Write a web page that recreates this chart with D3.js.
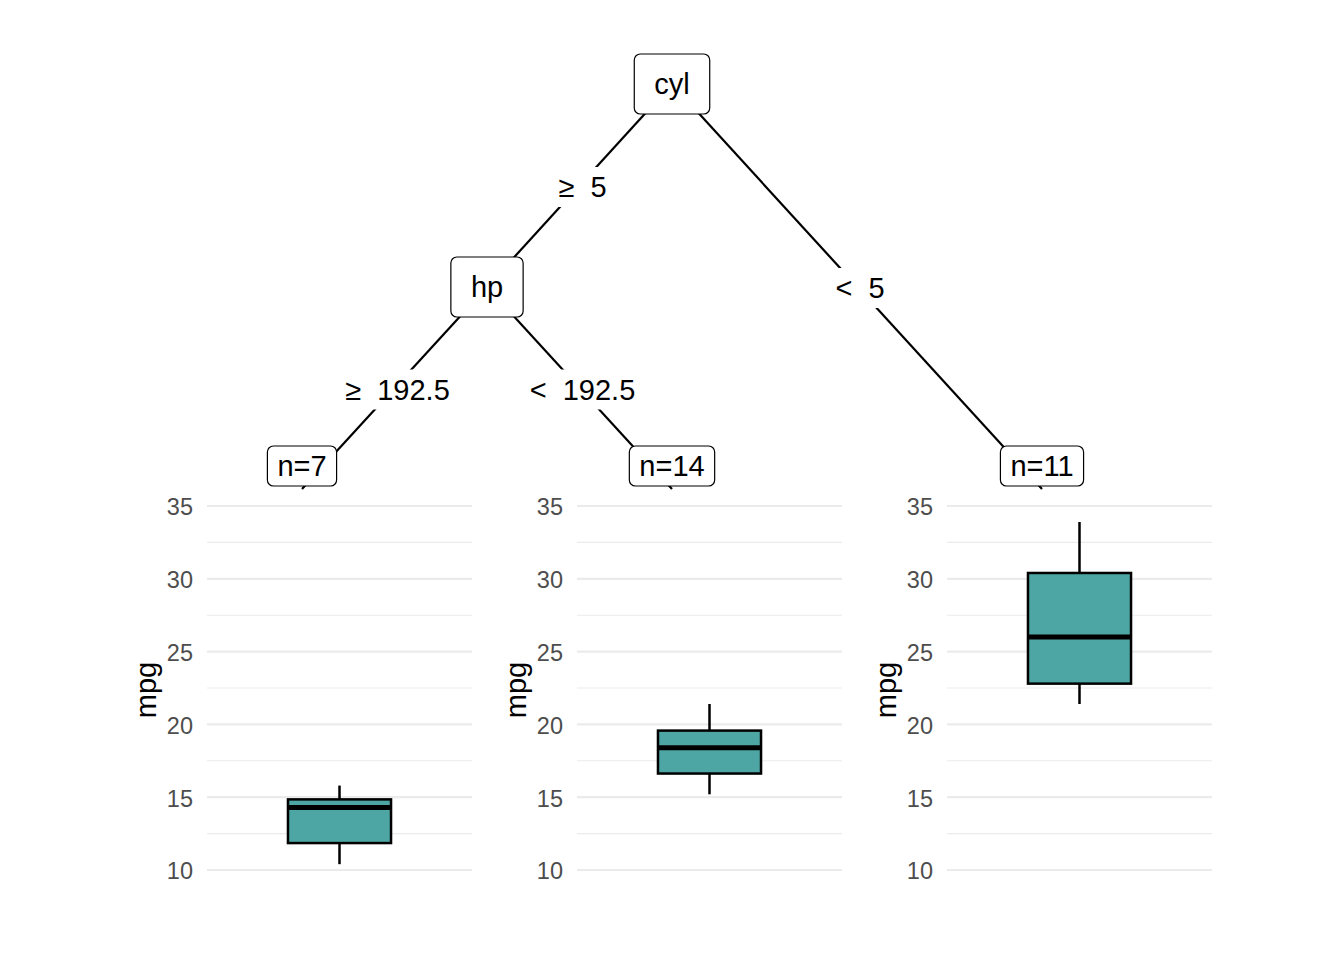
<!DOCTYPE html>
<html>
<head>
<meta charset="utf-8">
<script src="https://cdn.jsdelivr.net/npm/d3@7"></script>
<style>
  body { margin: 0; background: #fff; }
  text { font-family: "Liberation Sans", Arial, sans-serif; white-space: pre; }
</style>
</head>
<body>
<svg id="chart"></svg>
<script>
// split variables for the inner nodes, and edge labels
const splitVars = ["cyl", "hp"];
const rootEdges = ["≥  5", "<  5"];
const hpEdges = ["≥  192.5", "<  192.5"];

// leaves (left to right)
const leafN = [7, 14, 11];
// boxplot stats of mpg per leaf
const whiskerLow = [10.4, 15.2, 21.4];
const q1 = [11.85, 16.625, 22.8];
const median = [14.3, 18.4, 26.0];
const q3 = [14.85, 19.575, 30.4];
const whiskerHigh = [15.8, 21.4, 33.9];

const yTicks = [10, 15, 20, 25, 30, 35];
const yMinor = [12.5, 17.5, 22.5, 27.5, 32.5];

const W = 1344, H = 960;
const svg = d3.select("#chart").attr("width", W).attr("height", H);

// tree structure
const treeData = {
  name: splitVars[0],
  children: [
    {
      edge: rootEdges[0], name: splitVars[1],
      children: [
        { edge: hpEdges[0], leaf: 0 },
        { edge: hpEdges[1], leaf: 1 }
      ]
    },
    { edge: rootEdges[1], leaf: 2 }
  ]
};
const root = d3.hierarchy(treeData);
const maxDepth = root.height;

const xLeaf = d3.scalePoint().domain([0, 1, 2]).range([302, 1042]);
const yDepth = d3.scaleLinear().domain([0, 1, 2]).range([84, 287, 489]);

root.eachAfter(d => {
  if (d.data.leaf !== undefined) {
    d.x = xLeaf(d.data.leaf);
    d.y = yDepth(maxDepth); // all leaves on the bottom row
  } else {
    const xs = d.leaves().map(l => xLeaf(l.data.leaf));
    d.x = (d3.min(xs) + d3.max(xs)) / 2;
    d.y = yDepth(d.depth);
  }
});

// edges
svg.append("g")
  .selectAll("line")
  .data(root.links())
  .join("line")
  .attr("x1", d => d.source.x)
  .attr("y1", d => d.source.y)
  .attr("x2", d => d.target.x)
  .attr("y2", d => d.target.y)
  .attr("stroke", "black")
  .attr("stroke-width", 2.2);

const fontSize = 29;

function label(g, txt, padX, h, border) {
  const t = g.append("text")
    .text(txt)
    .attr("text-anchor", "middle")
    .attr("dy", "0.36em")
    .style("font-size", fontSize + "px")
    .attr("fill", "black");
  const w = t.node().getComputedTextLength() + 2 * padX;
  g.insert("rect", "text")
    .attr("x", -w / 2)
    .attr("y", -h / 2)
    .attr("width", w)
    .attr("height", h)
    .attr("rx", border ? 6 : 0)
    .attr("fill", "white")
    .attr("stroke", border ? "black" : "none")
    .attr("stroke-width", 1.2);
}

// edge labels near midpoints
root.links().forEach(l => {
  const g = svg.append("g")
    .attr("transform", `translate(${(l.source.x + l.target.x) / 2 + 3},${(l.source.y + l.target.y) / 2 + 1.5})`);
  label(g, l.target.data.edge, 4, 40, false);
});

// inner node labels
root.descendants().filter(d => d.children).forEach(d => {
  const g = svg.append("g").attr("transform", `translate(${d.x},${d.y})`);
  label(g, d.data.name, 20, 60, true);
});

// leaf node labels
root.leaves().forEach(d => {
  const g = svg.append("g").attr("transform", `translate(${d.x},${d.y - 23})`);
  label(g, "n=" + leafN[d.data.leaf], 10, 40, true);
});

// leaf boxplot panels
const y = d3.scaleLinear().domain([10, 35]).range([870, 506]);
const panelW = 265;

leafN.forEach((n, i) => {
  const left = xLeaf(i) - 95;
  const x = d3.scaleBand().domain(["mpg"]).range([left, left + panelW]).padding(0.44);
  const g = svg.append("g");

  g.selectAll("line.minor")
    .data(yMinor)
    .join("line")
    .attr("x1", left).attr("x2", left + panelW)
    .attr("y1", d => y(d)).attr("y2", d => y(d))
    .attr("stroke", "#EBEBEB").attr("stroke-width", 1.1);

  g.selectAll("line.major")
    .data(yTicks)
    .join("line")
    .attr("x1", left).attr("x2", left + panelW)
    .attr("y1", d => y(d)).attr("y2", d => y(d))
    .attr("stroke", "#EBEBEB").attr("stroke-width", 2.2);

  g.selectAll("text.tick")
    .data(yTicks)
    .join("text")
    .attr("x", left - 14)
    .attr("y", d => y(d) + 1)
    .attr("dy", "0.36em")
    .attr("text-anchor", "end")
    .attr("fill", "#4D4D4D")
    .style("font-size", "23.5px")
    .text(d => d);

  g.append("text")
    .attr("transform", `translate(${left - 61},${(y(10) + y(35)) / 2 + 2}) rotate(-90)`)
    .attr("text-anchor", "middle")
    .attr("dy", "0.36em")
    .style("font-size", "29px")
    .attr("fill", "black")
    .text("mpg");

  const cx = x("mpg") + x.bandwidth() / 2;
  g.append("line")
    .attr("x1", cx).attr("x2", cx)
    .attr("y1", y(whiskerHigh[i])).attr("y2", y(q3[i]))
    .attr("stroke", "black").attr("stroke-width", 2.5);
  g.append("line")
    .attr("x1", cx).attr("x2", cx)
    .attr("y1", y(q1[i])).attr("y2", y(whiskerLow[i]))
    .attr("stroke", "black").attr("stroke-width", 2.5);
  g.append("rect")
    .attr("x", x("mpg"))
    .attr("y", y(q3[i]))
    .attr("width", x.bandwidth())
    .attr("height", y(q1[i]) - y(q3[i]))
    .attr("fill", "#4DA6A3")
    .attr("stroke", "black")
    .attr("stroke-width", 2.5);
  g.append("line")
    .attr("x1", x("mpg")).attr("x2", x("mpg") + x.bandwidth())
    .attr("y1", y(median[i])).attr("y2", y(median[i]))
    .attr("stroke", "black").attr("stroke-width", 5);
});
</script>
</body>
</html>
